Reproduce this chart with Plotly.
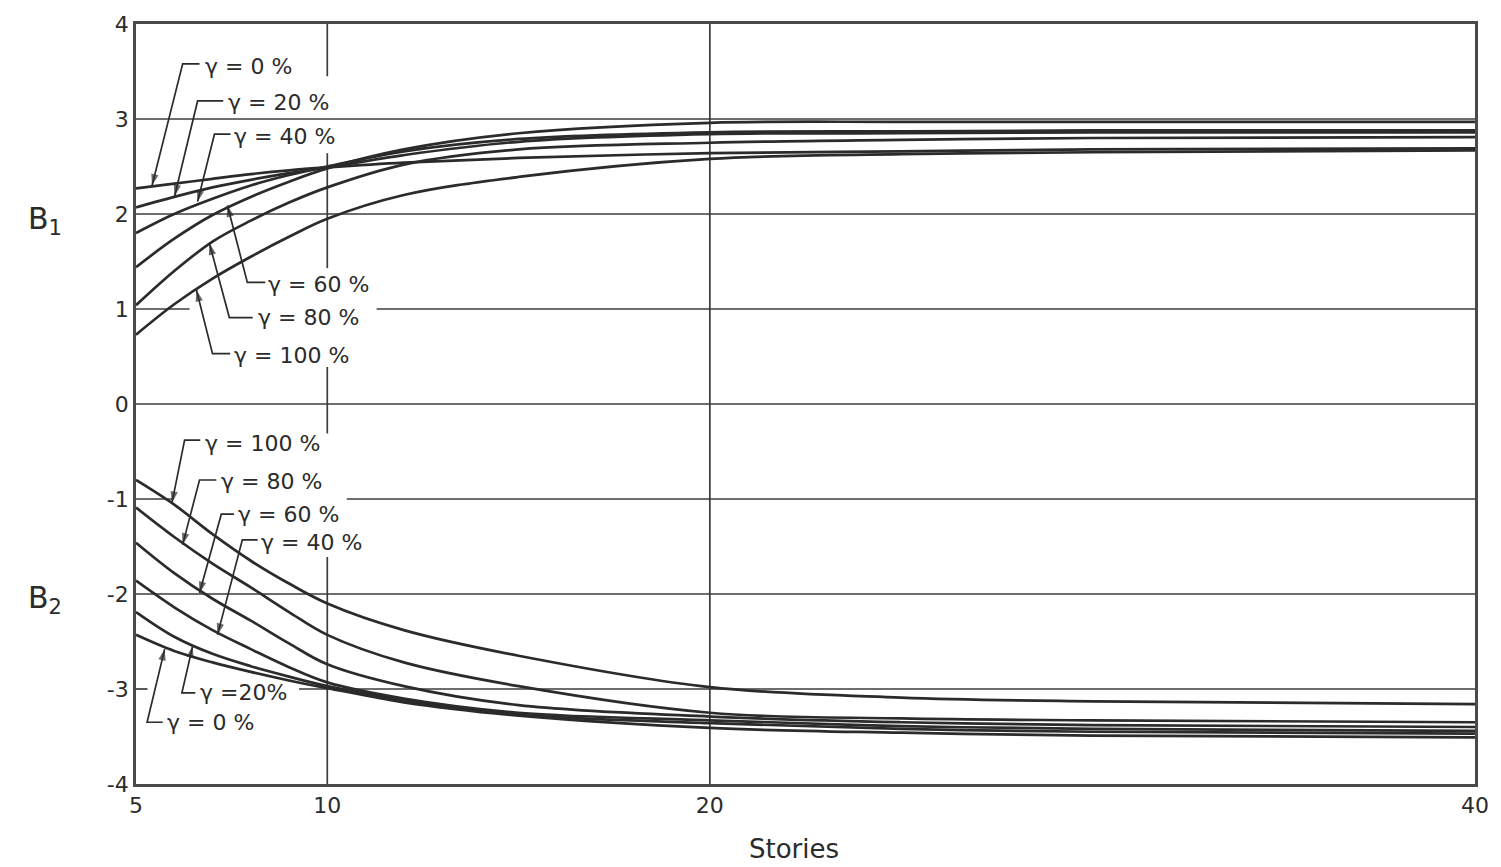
import plotly.graph_objects as go

# Number of stories (x axis)
stories = [5, 6, 7, 8, 9, 10, 12, 15, 20, 25, 30, 40]

# B1 coefficient for each gamma
b1_g0 = [2.27, 2.32, 2.37, 2.42, 2.46, 2.49, 2.54, 2.59, 2.64, 2.66, 2.68, 2.69]
b1_g20 = [2.07, 2.18, 2.28, 2.36, 2.43, 2.49, 2.62, 2.76, 2.84, 2.85, 2.86, 2.86]
b1_g40 = [1.80, 2.00, 2.16, 2.30, 2.41, 2.50, 2.66, 2.79, 2.86, 2.87, 2.88, 2.88]
b1_g60 = [1.44, 1.74, 1.99, 2.18, 2.34, 2.48, 2.68, 2.85, 2.96, 2.97, 2.97, 2.97]
b1_g80 = [1.04, 1.40, 1.71, 1.93, 2.12, 2.28, 2.52, 2.68, 2.75, 2.78, 2.80, 2.81]
b1_g100 = [0.73, 1.05, 1.32, 1.55, 1.76, 1.95, 2.20, 2.39, 2.58, 2.63, 2.65, 2.67]

# B2 coefficient for each gamma
b2_g0 = [-2.43, -2.60, -2.72, -2.82, -2.91, -2.99, -3.14, -3.28, -3.41, -3.46, -3.49, -3.51]
b2_g20 = [-2.19, -2.45, -2.63, -2.76, -2.87, -2.97, -3.12, -3.27, -3.36, -3.42, -3.45, -3.47]
b2_g40 = [-1.86, -2.14, -2.38, -2.58, -2.77, -2.93, -3.10, -3.25, -3.33, -3.39, -3.42, -3.44]
b2_g60 = [-1.46, -1.78, -2.05, -2.28, -2.52, -2.74, -2.97, -3.17, -3.29, -3.35, -3.38, -3.40]
b2_g80 = [-1.09, -1.40, -1.68, -1.93, -2.19, -2.43, -2.72, -2.97, -3.25, -3.31, -3.33, -3.35]
b2_g100 = [-0.80, -1.06, -1.37, -1.65, -1.89, -2.10, -2.38, -2.65, -2.98, -3.09, -3.13, -3.16]

x_ticks = [5, 10, 20, 40]
x_tick_text = ["5", "10", "20", "40"]
y_ticks = [-4, -3, -2, -1, 0, 1, 2, 3, 4]
y_tick_text = ["-4", "-3", "-2", "-1", "0", "1", "2", "3", "4"]

INK = "#2b2b2b"
GRID = "#3c3c3c"
FONT = "DejaVu Sans"

fig = go.Figure()

for series in [b1_g0, b1_g20, b1_g40, b1_g60, b1_g80, b1_g100,
               b2_g0, b2_g20, b2_g40, b2_g60, b2_g80, b2_g100]:
    fig.add_trace(go.Scatter(
        x=stories, y=series, mode="lines",
        line=dict(color=INK, width=2.7, shape="spline", smoothing=1.0),
        showlegend=False, hoverinfo="skip"))

shapes = []


def seg(x0, y0, x1, y1, width=1.7, color=GRID, layer="below"):
    shapes.append(dict(type="line", xref="x", yref="y", x0=x0, y0=y0,
                       x1=x1, y1=y1, layer=layer,
                       line=dict(color=color, width=width)))


# horizontal grid lines (interrupted behind the curve labels)
for yv in [3, 2, 0, -2]:
    seg(5, yv, 40, yv)
seg(5, 1, 6.40, 1)
seg(11.29, 1, 40, 1)
seg(5, -1, 5.94, -1)
seg(10.51, -1, 40, -1)
seg(5, -3, 5.30, -3)
seg(9.26, -3, 40, -3)

# vertical grid lines
seg(10, 4, 10, 3.45)
seg(10, 2.64, 10, 1.43)
seg(10, 0.39, 10, -0.31)
seg(10, -1.61, 10, -4)
seg(20, 4, 20, -4)

annotations = []

# curve labels: (text, text-left x, text y, elbow x, elbow y, stub end x, tip x, tip y)
labels = [
    ("γ = 0 %", 6.74, 3.55, 6.22, 3.58, 6.66, 5.42, 2.30),
    ("γ = 20 %", 7.36, 3.17, 6.61, 3.19, 7.28, 6.01, 2.19),
    ("γ = 40 %", 7.52, 2.82, 7.05, 2.84, 7.47, 6.61, 2.13),
    ("γ = 60 %", 8.40, 1.26, 7.91, 1.28, 8.38, 7.39, 2.09),
    ("γ = 80 %", 8.14, 0.91, 7.44, 0.91, 8.05, 6.92, 1.69),
    ("γ = 100 %", 7.52, 0.51, 7.00, 0.53, 7.46, 6.58, 1.20),
    ("γ = 100 %", 6.74, -0.42, 6.27, -0.38, 6.68, 5.94, -1.04),
    ("γ = 80 %", 7.18, -0.82, 6.66, -0.80, 7.10, 6.22, -1.48),
    ("γ = 60 %", 7.62, -1.16, 7.23, -1.16, 7.56, 6.66, -1.99),
    ("γ = 40 %", 8.22, -1.46, 7.78, -1.43, 8.18, 7.13, -2.43),
    ("γ =20%", 6.61, -3.04, 6.20, -3.04, 6.55, 6.48, -2.55),
    ("γ = 0 %", 5.75, -3.35, 5.29, -3.35, 5.70, 5.75, -2.58),
]

for text, tx, ty, ex, ey, sx, px, py in labels:
    # leader: short horizontal stub, then a slanted line ending in an arrowhead
    fig.add_trace(go.Scatter(
        x=[sx, ex, px], y=[ey, ey, py], mode="lines+markers",
        line=dict(color=INK, width=1.7),
        marker=dict(symbol="arrow", size=[0, 0, 12], angleref="previous",
                    color=INK, line=dict(width=0)),
        showlegend=False, hoverinfo="skip", cliponaxis=False))
    annotations.append(dict(
        x=tx, y=ty, xref="x", yref="y", text=text, showarrow=False,
        xanchor="left", yanchor="middle",
        font=dict(family=FONT, size=22, color=INK)))

annotations += [
    dict(x=-0.0824, y=1.93, xref="paper", yref="y", text="B<sub>1</sub>",
         xanchor="left", showarrow=False,
         font=dict(family=FONT, size=30, color=INK)),
    dict(x=-0.0824, y=-2.06, xref="paper", yref="y", text="B<sub>2</sub>",
         xanchor="left", showarrow=False,
         font=dict(family=FONT, size=30, color=INK)),
    dict(x=0.4915, y=-0.086, xref="paper", yref="paper", text="Stories",
         showarrow=False, yanchor="middle",
         font=dict(family=FONT, size=26, color=INK)),
]

fig.update_layout(
    width=1501, height=867,
    margin=dict(l=136, r=18, t=17, b=83),
    paper_bgcolor="white", plot_bgcolor="white",
    shapes=shapes, annotations=annotations,
    xaxis=dict(range=[5, 40], tickvals=x_ticks, ticktext=x_tick_text,
               showgrid=False, zeroline=False, showline=True, mirror=True,
               linecolor="#4a4a4a", linewidth=2.8, ticks="",
               tickfont=dict(family=FONT, size=22, color=INK)),
    yaxis=dict(range=[-4, 4], tickvals=y_ticks, ticktext=y_tick_text,
               showgrid=False, zeroline=False, showline=True, mirror=True,
               linecolor="#4a4a4a", linewidth=2.8, ticks="",
               tickfont=dict(family=FONT, size=22, color=INK)),
)

fig.write_html("out.html")
